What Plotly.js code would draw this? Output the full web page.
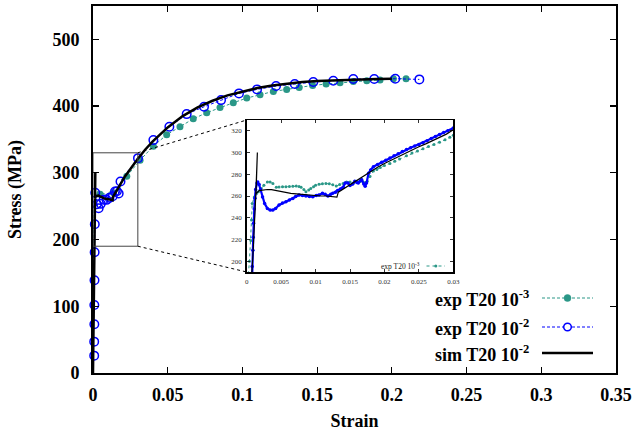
<!DOCTYPE html>
<html>
<head>
<meta charset="utf-8">
<script src="https://cdn.plot.ly/plotly-3.0.1.min.js"></script>
<style>html,body{margin:0;padding:0;background:#fff;}#chart{width:635px;height:436px;}</style>
</head>
<body>
<div id="chart"></div>
<script>
// ---------- DATA ----------
// exp T20 1e-3 : dense curve (start region) + tail
const exp3Strain = [0,0.0002,0.0004,0.0006,0.0007,0.0008,0.0011,0.0014,0.0017,0.0021,0.0025,0.0030,0.0034,0.0038,0.0043,0.0047,0.0052,0.0057,0.0062,0.0067,0.0072,0.0076,0.0079,0.0083,0.0086,0.0090,0.0093,0.0097,0.0100,0.0105,0.0110,0.0115,0.0120,0.0125,0.0130,0.0135,0.0140,0.0145,0.0150,0.0155,0.0160,0.0164,0.0168,0.0172,0.0175,0.0179,0.0184,0.0189,0.0194,0.0200,0.0208,0.0215,0.0222,0.0232,0.0240,0.0248,0.0256,0.0264,0.0272,0.0280,0.0288,0.0295,0.0300,
  0.0315,0.0404,0.0493,0.0582,0.0671,0.0761,0.0850,0.0939,0.1029,0.1118,0.1207,0.1296,0.1380,0.1470,0.1560,0.1653,0.1742,0.1832,0.1921,0.2010,0.2095];
const exp3Stress = [0,185,200,219,238,253,259,262,264,267,270,273,273,271.5,268,268.3,268.6,268.6,268.8,269,269.2,268.8,268,266,264,265.5,267,268.5,270,270.8,271.2,271.4,271.2,270.3,269.2,270.5,271.5,273,273,272,273.6,273.2,273.6,272.5,273.6,278,283,284.5,286.3,288,290,292,294,297,299.5,301.5,303.5,305.5,307.5,309.5,311.8,314,316,
  319,340,357,369,381,390,398,405,412,417,422,425,428,431,433,435,437,438,439,441,441];
// markers shown in the main panel for exp T20 1e-3
const exp3MarkStrain = [0.0048,0.0137,0.0226,0.0315,0.0404,0.0493,0.0582,0.0671,0.0761,0.0850,0.0939,0.1029,0.1118,0.1207,0.1296,0.1380,0.1470,0.1560,0.1653,0.1742,0.1832,0.1921,0.2010,0.2095];
const exp3MarkStress = [268,270,295,319,340,357,369,381,390,398,405,412,417,422,425,428,431,433,435,437,438,439,441,441];

// exp T20 1e-2
const exp2Strain = [0,0.0007,0.0008,0.0009,0.00095,0.0010,0.0011,0.0012,0.0013,0.0015,0.0016,0.0018,0.0020,0.0023,0.0026,0.0030,0.0034,0.0038,0.0042,0.0047,0.0052,0.0057,0.0062,0.0067,0.0071,0.0076,0.0081,0.0086,0.0091,0.0096,0.0101,0.0105,0.0110,0.0114,0.0118,0.0122,0.0125,0.0129,0.0132,0.0136,0.0140,0.0143,0.0147,0.0150,0.0154,0.0157,0.0160,0.0162,0.0165,0.0167,0.0170,0.0172,0.0174,0.0177,0.0180,0.0184,0.0190,0.0196,0.0202,0.0208,0.0214,0.0220,0.0226,0.0232,0.0238,0.0244,0.0250,0.0256,0.0262,0.0268,0.0274,0.0280,0.0286,0.0292,0.0300,
  0.0315,0.0404,0.0511,0.0627,0.0743,0.0857,0.0977,0.1098,0.1225,0.1350,0.1474,0.1608,0.1742,0.1882,0.2023,0.2184];
const exp2Stress = [0,185,195,210,222,235,248,258,266,272,273,270.5,266,259,253,248.6,247,247,248.5,251.7,253.5,254.8,256.3,257.8,259.5,261,260.5,260,259.5,259.4,260.5,261,262.5,261.5,260,261.5,262.5,263.5,265,266.5,268,272,272,269.6,271,273.6,272.5,272,274,275,271,269,272,281,284,287,289,291,293,295,297,299,301,302.8,304.5,306,307.5,309,311,313,314.8,316.6,318.5,320.2,322.6,
  324,349,369,388,399,409,419,425,430,433,436,438,440.6,440.6,441,440];
// markers shown in the main panel for exp T20 1e-2
const exp2MarkStrain = [0.0008,0.0008,0.0009,0.0009,0.0010,0.0011,0.0012,0.0015,0.0026,0.0038,0.0052,0.0071,0.0091,0.0110,0.0132,0.0147,0.0160,0.0172,0.0184,0.0301,0.0404,0.0511,0.0627,0.0743,0.0857,0.0977,0.1098,0.1225,0.1350,0.1474,0.1608,0.1742,0.1882,0.2023,0.2184];
const exp2MarkStress = [26,47,73,102,139,181,223,270,253,247,253.5,259.5,259.5,262.5,265,272,272.5,269,287,322,349,369,388,399,409,419,425,430,433,436,438,440.6,440.6,441,440];

// sim T20 1e-2
const simStrain = [0,0.0007,0.0009,0.0011,0.0013,0.0014,0.00155,0.00135,0.0018,0.0025,0.0030,0.0036,0.0043,0.0050,0.0057,0.0064,0.0072,0.0079,0.0086,0.0093,0.0100,0.0108,0.0115,0.0121,0.0127,0.0131,0.0133,0.0150,0.0165,0.0179,0.0185,0.0190,0.0200,0.0210,0.0220,0.0232,0.0240,0.0250,0.0260,0.0270,0.0280,0.0290,0.0300,
  0.035,0.04,0.05,0.06,0.07,0.08,0.09,0.10,0.11,0.12,0.13,0.14,0.15,0.16,0.17,0.18,0.19,0.20];
const simStress = [0,185,205,228,258,275,300,262,265,265.8,266,265.8,265,264,263,262.5,262,261.5,261,260.5,260,260,260,259.6,259.4,259,263.5,270.5,276.5,282,284.5,286.5,290,293.2,296.2,300,302.5,305.3,308,311,314,317,321,
  335,347,368,385,398,408,416,422,427,431,434,436,437.5,438.5,439.5,440,440.5,441];

const xTicks = [0,0.05,0.1,0.15,0.2,0.25,0.3,0.35];
const yTicks = [0,100,200,300,400,500];
const insetXTicks = [0,0.005,0.01,0.015,0.02,0.025,0.03];
const insetYTicks = [200,220,240,260,280,300,320];
const zoomBox = {x:[0,0.03], y:[190,330]};
const legendNames = ['exp T20 10<sup>-3</sup>','exp T20 10<sup>-2</sup>','sim T20 10<sup>-2</sup>'];

// ---------- STYLE ----------
const TEAL = '#2a9787', BLUE = '#0000ff', BLACK = '#000000';
const SERIF = 'Liberation Serif';
const W = 635, H = 436, ML = 93, MR = 19, MT = 6, MB = 63;
const PW = W - ML - MR, PH = H - MT - MB;
const px2x = p => (p - ML) / PW;
const px2y = p => (H - MB - p) / PH;
const xMax = 0.35, yMax = 550;
const DASH = '3px,2px';

const insetDomX = [px2x(246.7), px2x(453.3)];
const insetDomY = [px2y(272), px2y(120)];

const traces = [
  // main panel
  {x: exp3Strain, y: exp3Stress, mode:'lines', line:{color:TEAL, width:1, dash:DASH}, xaxis:'x', yaxis:'y', cliponaxis:false, showlegend:false},
  {x: exp3MarkStrain, y: exp3MarkStress, mode:'markers', marker:{color:TEAL, size:7}, xaxis:'x', yaxis:'y', cliponaxis:false, showlegend:false},
  {x: exp2Strain, y: exp2Stress, mode:'lines', line:{color:BLUE, width:1, dash:DASH}, xaxis:'x', yaxis:'y', cliponaxis:false, showlegend:false},
  {x: exp2MarkStrain, y: exp2MarkStress, mode:'markers', marker:{color:BLUE, size:8.5, symbol:'circle-open', line:{color:BLUE, width:1.5}}, xaxis:'x', yaxis:'y', cliponaxis:false, showlegend:false},
  {x: simStrain, y: simStress, mode:'lines', line:{color:BLACK, width:2.5}, xaxis:'x', yaxis:'y', cliponaxis:false, showlegend:false},
  // inset
  {x: exp3Strain, y: exp3Stress, mode:'lines+markers', line:{color:TEAL, width:1, dash:'dot'}, marker:{color:TEAL, size:3}, xaxis:'x2', yaxis:'y2', showlegend:false},
  {x: exp2Strain, y: exp2Stress, mode:'lines+markers', line:{color:BLUE, width:2.2}, marker:{color:BLUE, size:3.5}, xaxis:'x2', yaxis:'y2', showlegend:false},
  {x: simStrain, y: simStress, mode:'lines', line:{color:BLACK, width:1.2}, xaxis:'x2', yaxis:'y2', showlegend:false}
];

const bigFont = {family:SERIF, size:18, color:'#000', weight:'bold'};
const smallFont = {family:SERIF, size:7, color:'#333'};

const shapes = [
  {type:'rect', xref:'x', yref:'y', x0:zoomBox.x[0], x1:zoomBox.x[1], y0:zoomBox.y[0], y1:zoomBox.y[1], line:{color:'#444', width:1}},
  {type:'line', xref:'paper', yref:'paper', x0:zoomBox.x[1]/xMax, y0:zoomBox.y[1]/yMax, x1:insetDomX[0], y1:insetDomY[1], line:{color:'#000', width:1, dash:'dot'}},
  {type:'line', xref:'paper', yref:'paper', x0:zoomBox.x[1]/xMax, y0:zoomBox.y[0]/yMax, x1:insetDomX[0], y1:insetDomY[0], line:{color:'#000', width:1, dash:'dot'}}
];
const annotations = [];

// main legend (text left of sample, gnuplot style)
const legRowsY = [298, 327, 353];
const legStyles = [
  {color:TEAL, dash:DASH, width:1, marker:'filled'},
  {color:BLUE, dash:DASH, width:1, marker:'open'},
  {color:BLACK, dash:'solid', width:2.5, marker:null}
];
legRowsY.forEach((py, i) => {
  const st = legStyles[i];
  annotations.push({xref:'paper', yref:'paper', x:px2x(531), y:px2y(py), xanchor:'right', yanchor:'middle', text:legendNames[i], showarrow:false, font:bigFont});
  shapes.push({type:'line', xref:'paper', yref:'paper', x0:px2x(542), x1:px2x(593), y0:px2y(py), y1:px2y(py), line:{color:st.color, width:st.width, dash:st.dash}});
  if (st.marker) {
    const r = st.marker === 'filled' ? 3.5 : 3.8;
    shapes.push({type:'circle', xref:'paper', yref:'paper', xsizemode:'pixel', ysizemode:'pixel', xanchor:px2x(567.5), yanchor:px2y(py), x0:-r, x1:r, y0:-r, y1:r,
      fillcolor: st.marker === 'filled' ? st.color : '#fff', line:{color:st.color, width:st.marker === 'filled' ? 0.5 : 1.5}});
  }
});
// inset legend
annotations.push({xref:'paper', yref:'paper', x:px2x(422), y:px2y(266), xanchor:'right', yanchor:'middle', text:legendNames[0], showarrow:false, font:{family:SERIF, size:7.5, color:'#222'}});
shapes.push({type:'line', xref:'paper', yref:'paper', x0:px2x(426.5), x1:px2x(445), y0:px2y(266), y1:px2y(266), line:{color:TEAL, width:1, dash:'dot'}});
shapes.push({type:'circle', xref:'paper', yref:'paper', xsizemode:'pixel', ysizemode:'pixel', xanchor:px2x(435.8), yanchor:px2y(266), x0:-1.5, x1:1.5, y0:-1.5, y1:1.5, fillcolor:TEAL, line:{color:TEAL, width:0}});

const layout = {
  width:W, height:H,
  margin:{l:ML, r:MR, t:MT, b:MB, pad:0},
  paper_bgcolor:'#fff', plot_bgcolor:'rgba(0,0,0,0)',
  showlegend:false,
  xaxis:{domain:[0,1], range:[0,xMax], tickvals:xTicks, ticktext:xTicks.map(String), showgrid:false, zeroline:false,
    showline:true, linecolor:'#000', linewidth:2, mirror:'ticks', ticks:'inside', ticklen:6, tickwidth:1.2, tickcolor:'#000',
    tickfont:bigFont, ticklabelstandoff:4,
    title:{text:'Strain', font:bigFont, standoff:11}},
  yaxis:{domain:[0,1], range:[0,yMax], tickvals:yTicks, ticktext:yTicks.map(String), showgrid:false, zeroline:false,
    showline:true, linecolor:'#000', linewidth:2, mirror:'ticks', ticks:'inside', ticklen:6, tickwidth:1.2, tickcolor:'#000',
    tickfont:bigFont, ticklabelstandoff:8,
    title:{text:'Stress (MPa)', font:bigFont, standoff:26}},
  xaxis2:{domain:insetDomX, anchor:'y2', range:[0,0.03], tickvals:insetXTicks, ticktext:insetXTicks.map(String), showgrid:false, zeroline:false,
    showline:true, linecolor:'#000', linewidth:1.5, mirror:'ticks', ticks:'inside', ticklen:3, tickwidth:0.8, tickcolor:'#000',
    tickfont:smallFont, ticklabelstandoff:2},
  yaxis2:{domain:insetDomY, anchor:'x2', range:[190,330], tickvals:insetYTicks, ticktext:insetYTicks.map(String), showgrid:false, zeroline:false,
    showline:true, linecolor:'#000', linewidth:1.5, mirror:'ticks', ticks:'inside', ticklen:3, tickwidth:0.8, tickcolor:'#000',
    tickfont:smallFont, ticklabelstandoff:2},
  shapes:shapes,
  annotations:annotations
};

Plotly.newPlot('chart', traces, layout, {staticPlot:true, displayModeBar:false});
</script>
</body>
</html>
